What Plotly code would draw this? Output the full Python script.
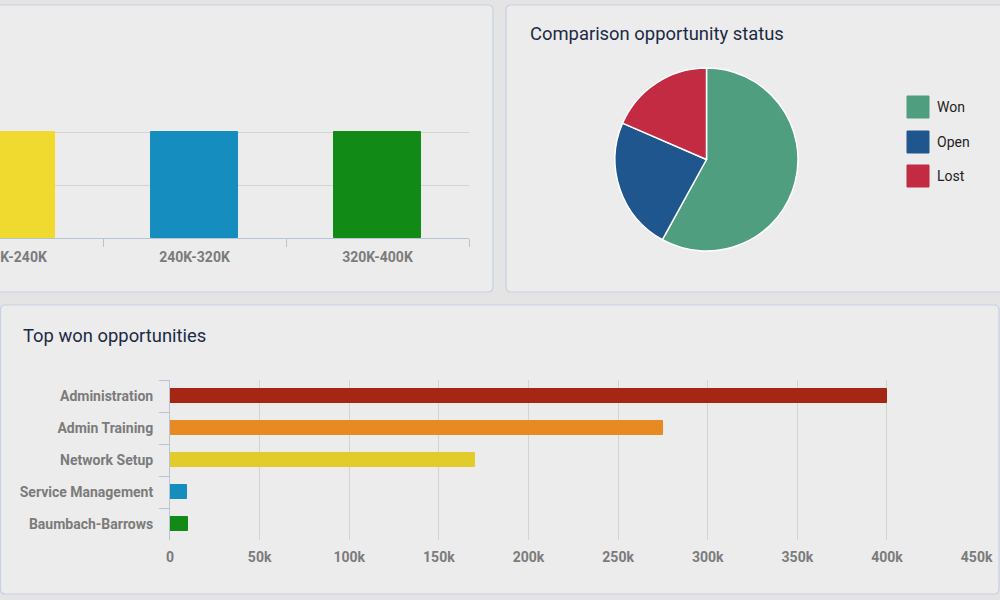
import plotly.graph_objects as go

# ---------------- data ----------------
range_categories = ["160K-240K", "240K-320K", "320K-400K"]
range_values = [2, 2, 2]
range_colors = ["#F0DA30", "#168DBF", "#118B16"]

status_labels = ["Won", "Open", "Lost"]
status_values = [58.0, 23.5, 18.5]
status_colors = ["#4E9E7F", "#1F568E", "#C22B42"]

opp_names = ["Administration", "Admin Training", "Network Setup",
             "Service Management", "Baumbach-Barrows"]
opp_values = [400000, 275000, 170000, 9500, 10000]
opp_colors = ["#A52613", "#E88A22", "#E2CC2C", "#168DBF", "#118B16"]

# ---------------- helpers ----------------
W, H = 1000, 600
def px(x):
    return x / W
def py(y):
    return 1 - y / H

def rounded_rect(x0, y0, x1, y1, r=5):
    rx, ry = r / W, r / H
    X0, X1 = px(x0), px(x1)
    Y0, Y1 = py(y0), py(y1)  # Y0 top, Y1 bottom
    return (f"M {X0+rx},{Y0} L {X1-rx},{Y0} Q {X1},{Y0} {X1},{Y0-ry} "
            f"L {X1},{Y1+ry} Q {X1},{Y1} {X1-rx},{Y1} "
            f"L {X0+rx},{Y1} Q {X0},{Y1} {X0},{Y1+ry} "
            f"L {X0},{Y0-ry} Q {X0},{Y0} {X0+rx},{Y0} Z")

AXIS_BLUE = "#B7C3D7"
GRID = "#D3D3D3"
TICK_FONT = dict(family="Roboto, Arial, sans-serif", size=14, color="#7B7B7B", weight="bold")
TITLE_FONT = dict(family="Roboto, Arial, sans-serif", size=18.4, color="#1B2A44")

fig = go.Figure()

# top-left range bar chart
fig.add_trace(go.Bar(
    x=range_categories, y=range_values, width=0.475,
    marker=dict(color=range_colors, line=dict(color=range_colors, width=1)),
    xaxis="x", yaxis="y", showlegend=False, hoverinfo="skip"))

# pie chart
fig.add_trace(go.Pie(
    labels=status_labels, values=status_values, sort=False,
    direction="clockwise", rotation=0, textinfo="none",
    marker=dict(colors=status_colors, line=dict(color="white", width=1.5)),
    domain=dict(x=[px(615), px(798)], y=[py(251), py(68)]),
    showlegend=False, hoverinfo="label+percent"))

# bottom horizontal bar chart
fig.add_trace(go.Bar(
    y=opp_names, x=opp_values, orientation="h", width=0.45,
    marker=dict(color=opp_colors, line=dict(color=opp_colors, width=1)),
    xaxis="x3", yaxis="y3", showlegend=False, hoverinfo="skip"))

shapes = [
    dict(type="path", path=rounded_rect(-20, 5, 493, 292), xref="paper", yref="paper",
         fillcolor="#ECECEC", line=dict(color="#C7D1E1", width=1.2), layer="below"),
    dict(type="path", path=rounded_rect(506, 5, 1020, 292), xref="paper", yref="paper",
         fillcolor="#ECECEC", line=dict(color="#C7D1E1", width=1.2), layer="below"),
    dict(type="path", path=rounded_rect(0.5, 305, 999, 594), xref="paper", yref="paper",
         fillcolor="#ECECEC", line=dict(color="#C7D1E1", width=1.2), layer="below"),
]

annotations = [
    dict(text="Comparison opportunity status", x=px(528), y=py(34), xref="paper", yref="paper",
         xanchor="left", yanchor="middle", showarrow=False, font=TITLE_FONT),
    dict(text="Top won opportunities", x=px(21), y=py(335), xref="paper", yref="paper",
         xanchor="left", yanchor="middle", showarrow=False, font=TITLE_FONT),
]

# custom legend for the pie
legend_rows = [107, 142, 176]
for lab, col, yc in zip(status_labels, status_colors, legend_rows):
    shapes.append(dict(type="rect", xref="paper", yref="paper",
                       x0=px(907), x1=px(929), y0=py(yc + 11), y1=py(yc - 11),
                       fillcolor=col, line=dict(color=col, width=1)))
    annotations.append(dict(text=lab, x=px(935), y=py(yc), xref="paper", yref="paper",
                            xanchor="left", yanchor="middle", showarrow=False,
                            font=dict(family="Roboto, Arial, sans-serif", size=14, color="#222222")))

fig.update_layout(
    width=W, height=H, margin=dict(l=0, r=0, t=0, b=0),
    paper_bgcolor="#E4E4E4", plot_bgcolor="rgba(0,0,0,0)",
    shapes=shapes, annotations=annotations, bargap=0,
    xaxis=dict(domain=[0, px(469)], anchor="y", type="category",
               range=[-0.063, 2.5], showgrid=False, zeroline=False,
               showline=True, linecolor=AXIS_BLUE, linewidth=1,
               ticks="outside", tickson="boundaries", ticklen=8, tickcolor=AXIS_BLUE,
               ticklabelstandoff=6,
               tickfont=TICK_FONT, automargin=False, fixedrange=True),
    yaxis=dict(domain=[py(238), py(79)], anchor="x", range=[0, 3], dtick=1,
               showgrid=True, gridcolor=GRID, zeroline=False, showticklabels=False,
               automargin=False, fixedrange=True),
    xaxis3=dict(domain=[px(170), px(976.6)], anchor="y3", range=[0, 450000],
                dtick=50000, tickformat="~s", showgrid=True, gridcolor=GRID,
                zeroline=False, showline=False, ticks="outside", ticklen=4,
                tickcolor="rgba(0,0,0,0)", tickfont=TICK_FONT, automargin=False,
                fixedrange=True),
    yaxis3=dict(domain=[py(540), py(380)], anchor="x3", type="category",
                categoryorder="array", categoryarray=opp_names, autorange="reversed",
                showgrid=False, zeroline=False, showline=True, linecolor=AXIS_BLUE,
                linewidth=1, ticks="outside", tickson="boundaries", ticklen=10,
                tickcolor=AXIS_BLUE, ticklabelstandoff=13, tickfont=TICK_FONT,
                automargin=False, fixedrange=True),
)

fig.write_html("out.html", config={"displayModeBar": False},
               post_script="document.body.style.margin='0';document.body.style.overflow='hidden';")
